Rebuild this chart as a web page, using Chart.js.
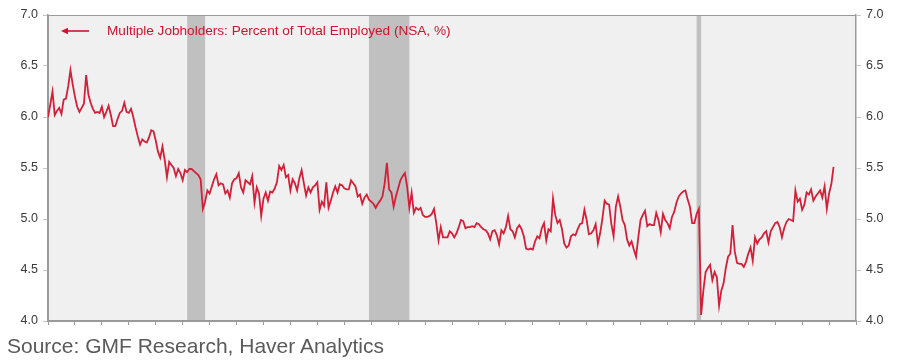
<!DOCTYPE html>
<html>
<head>
<meta charset="utf-8">
<script src="https://cdn.jsdelivr.net/npm/chart.js@4/dist/chart.umd.min.js"></script>
<style>
  html, body { margin: 0; padding: 0; background: #ffffff; }
  #wrap { position: relative; width: 902px; height: 362px; overflow: hidden; }
  #chart { position: absolute; left: 0; top: 0; }
  #legend { position: absolute; left: 61px; top: 23px; font-family: "Liberation Sans", Arial, sans-serif; font-size: 13.6px; color: #d0142c; white-space: nowrap; display: flex; align-items: center; }
  #legend svg { margin-right: 18px; }
  #source { position: absolute; left: 7px; top: 334px; font-family: "Liberation Sans", Arial, sans-serif; font-size: 21px; color: #5a5a5a; white-space: nowrap; }
</style>
</head>
<body>
<div id="wrap">
  <canvas id="chart" width="902" height="362"></canvas>
  <div id="legend"><svg width="28" height="8" viewBox="0 0 28 8"><line x1="3" y1="4" x2="28" y2="4" stroke="#d0142c" stroke-width="1.6"/><polygon points="0,4 7,0.8 7,7.2" fill="#d0142c"/></svg><span id="legendText"></span></div>
  <div id="source"></div>
</div>
<script>
// ---- data (monthly, Jan 1996 .. Mar 2025) ----
const startYear = 1996;
const endTickYear = 2026;
const seriesName = "Multiple Jobholders: Percent of Total Employed (NSA, %)";
const sourceText = "Source: GMF Research, Haver Analytics";

const multipleJobholdersPct = [
  6.00, 6.12, 6.25, 6.02, 6.06, 6.09, 6.03, 6.17, 6.18, 6.30, 6.46, 6.32, // 1996
  6.20, 6.10, 6.05, 6.09, 6.13, 6.41, 6.22, 6.14, 6.08, 6.04, 6.05, 6.04, // 1997
  6.10, 6.00, 6.05, 6.11, 6.02, 5.91, 5.91, 5.98, 6.04, 6.06, 6.14, 6.05, // 1998
  6.04, 6.08, 6.00, 5.90, 5.81, 5.73, 5.78, 5.76, 5.75, 5.80, 5.87, 5.86, // 1999
  5.77, 5.66, 5.60, 5.71, 5.58, 5.41, 5.56, 5.53, 5.50, 5.42, 5.49, 5.45, // 2000
  5.38, 5.48, 5.46, 5.49, 5.49, 5.47, 5.45, 5.43, 5.39, 5.10, 5.17, 5.28, // 2001
  5.25, 5.32, 5.39, 5.44, 5.33, 5.35, 5.34, 5.25, 5.28, 5.21, 5.35, 5.39, // 2002
  5.40, 5.45, 5.31, 5.26, 5.38, 5.36, 5.34, 5.42, 5.16, 5.31, 5.25, 5.03, // 2003
  5.20, 5.26, 5.18, 5.27, 5.26, 5.30, 5.36, 5.52, 5.48, 5.53, 5.41, 5.43, // 2004
  5.28, 5.39, 5.35, 5.28, 5.40, 5.48, 5.35, 5.23, 5.31, 5.26, 5.31, 5.33, // 2005
  5.36, 5.09, 5.17, 5.13, 5.36, 5.11, 5.18, 5.26, 5.32, 5.26, 5.34, 5.33, // 2006
  5.30, 5.29, 5.29, 5.38, 5.35, 5.32, 5.22, 5.24, 5.15, 5.21, 5.24, 5.19, // 2007
  5.17, 5.15, 5.11, 5.15, 5.18, 5.22, 5.35, 5.55, 5.29, 5.26, 5.12, 5.22, // 2008
  5.30, 5.38, 5.42, 5.45, 5.32, 5.11, 5.26, 5.06, 5.11, 5.09, 5.11, 5.04, // 2009
  5.02, 5.02, 5.03, 5.05, 5.10, 4.96, 4.79, 4.92, 4.82, 4.82, 4.82, 4.88, // 2010
  4.86, 4.82, 4.86, 4.92, 4.99, 4.98, 4.91, 4.92, 4.92, 4.93, 4.92, 4.96, // 2011
  4.95, 4.92, 4.90, 4.89, 4.86, 4.80, 4.88, 4.89, 4.84, 4.75, 4.89, 4.86, // 2012
  4.92, 5.03, 4.90, 4.88, 4.82, 4.91, 4.94, 4.90, 4.83, 4.71, 4.70, 4.71, // 2013
  4.70, 4.78, 4.83, 4.81, 4.91, 4.96, 4.79, 4.90, 4.88, 5.20, 5.04, 4.96, // 2014
  4.99, 4.90, 4.76, 4.72, 4.74, 4.83, 4.85, 4.84, 4.90, 4.95, 4.96, 5.09, // 2015
  4.99, 4.85, 4.86, 4.89, 4.95, 4.76, 4.86, 5.00, 5.18, 5.15, 5.14, 4.95, // 2016
  4.83, 5.12, 5.22, 5.12, 4.99, 4.94, 4.80, 4.74, 4.78, 4.70, 4.63, 4.82, // 2017
  4.99, 5.04, 5.08, 4.93, 4.95, 4.94, 4.94, 5.06, 4.99, 4.87, 5.05, 4.99, // 2018
  4.96, 4.91, 5.02, 5.07, 5.16, 5.22, 5.25, 5.27, 5.28, 5.19, 5.12, 4.96, // 2019
  4.96, 5.05, 5.10, 4.06, 4.30, 4.48, 4.52, 4.55, 4.40, 4.48, 4.43, 4.15, // 2020
  4.30, 4.37, 4.52, 4.63, 4.66, 4.94, 4.68, 4.57, 4.56, 4.56, 4.53, 4.58, // 2021
  4.66, 4.72, 4.59, 4.82, 4.76, 4.80, 4.82, 4.86, 4.88, 4.77, 4.88, 4.92, // 2022
  4.96, 4.97, 4.92, 4.82, 4.91, 4.97, 5.00, 4.99, 4.98, 5.28, 5.17, 5.20, // 2023
  5.09, 5.14, 5.26, 5.24, 5.29, 5.18, 5.22, 5.25, 5.28, 5.21, 5.32, 5.10, // 2024
  5.25, 5.34, 5.51                                                         // 2025
];

// NBER recessions: [start year, start month (1-12), end year, end month]
const recessions = [
  [2001, 3, 2001, 11],
  [2007, 12, 2009, 6],
  [2020, 2, 2020, 4]
];

const yTickLabels = ["4.0", "4.5", "5.0", "5.5", "6.0", "6.5", "7.0"];

// ---- build ----
const monthIndex = (y, m) => (y - startYear) * 12 + (m - 1);
const points = multipleJobholdersPct.map((v, i) => ({ x: i, y: v }));

document.getElementById('legendText').textContent = seriesName;
document.getElementById('source').textContent = sourceText;

const AXIS_COLOR = '#9a9a9a';
const FONT = "'Liberation Sans', Arial, sans-serif";

const bgPlugin = {
  id: 'plotBg',
  beforeDraw(chart) {
    const { ctx, chartArea: a, scales } = chart;
    ctx.save();
    ctx.fillStyle = '#f0f0f0';
    ctx.fillRect(a.left, a.top, a.right - a.left, a.bottom - a.top);
    ctx.fillStyle = '#c0c0c0';
    recessions.forEach(r => {
      const x1 = scales.x.getPixelForValue(monthIndex(r[0], r[1]));
      const x2 = scales.x.getPixelForValue(monthIndex(r[2], r[3]));
      ctx.fillRect(x1, a.top, Math.max(2, x2 - x1), a.bottom - a.top);
    });
    ctx.strokeStyle = AXIS_COLOR;
    ctx.lineWidth = 1;
    ctx.strokeRect(a.left + 0.5, a.top + 0.5, a.right - a.left - 1, a.bottom - a.top);
    ctx.restore();
  }
};

const yCommon = (pos) => ({
  type: 'linear',
  position: pos,
  min: 4, max: 7,
  ticks: {
    stepSize: 0.5,
    padding: 5,
    color: '#3a3a3a',
    font: { family: FONT, size: 12.5 },
    callback: (v) => {
      const idx = Math.round((v - 4) / 0.5);
      return yTickLabels[idx] !== undefined ? yTickLabels[idx] : '';
    }
  },
  grid: { display: true, drawOnChartArea: false, drawTicks: true, tickLength: 5, color: '#c8c8c8' },
  border: { display: true, color: AXIS_COLOR, width: 1.5 },
  afterFit: (s) => { s.width = pos === 'left' ? 48 : 46; }
});

new Chart(document.getElementById('chart'), {
  type: 'line',
  data: {
    datasets: [{
      label: seriesName,
      data: points,
      borderColor: '#d41f38',
      borderWidth: 1.8,
      pointRadius: 0,
      tension: 0,
      fill: false
    }]
  },
  options: {
    responsive: false,
    animation: false,
    layout: { padding: { top: 15, left: 0, right: 0, bottom: 0 } },
    plugins: { legend: { display: false }, tooltip: { enabled: false } },
    scales: {
      x: {
        type: 'linear',
        min: 0,
        max: (endTickYear - startYear) * 12,
        ticks: { stepSize: 12, display: false },
        grid: { display: true, drawOnChartArea: false, drawTicks: true, tickLength: 4, color: '#9a9a9a' },
        border: { display: true, color: AXIS_COLOR, width: 1.5 },
        afterFit: (s) => { s.height = 41; }
      },
      y: yCommon('left'),
      y2: yCommon('right')
    }
  },
  plugins: [bgPlugin]
});
</script>
</body>
</html>
